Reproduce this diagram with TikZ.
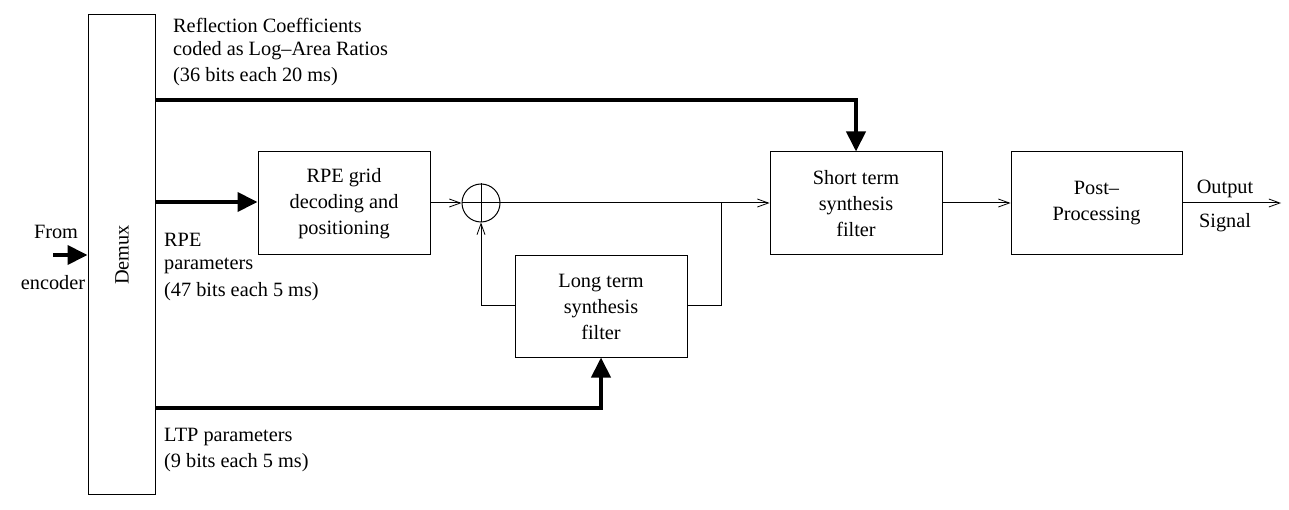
\documentclass[tikz,border=0pt]{standalone}
\usepackage{fontspec}
\setmainfont{Liberation Serif}
\usetikzlibrary{arrows.meta}
\begin{document}
\begin{tikzpicture}[x=1pt,y=-1pt,
  box/.style={draw,line width=1pt,inner sep=0pt,align=center},
  txt/.style={inner sep=0pt,align=left,anchor=west},
  thick arrow/.style={line width=4pt,-{Triangle[length=20pt,width=19pt]}},
  thin arrow/.style={line width=1pt,-{Straight Barb[length=11pt,width=8pt,line width=0.8pt]}},
  font=\fontsize{20.3}{26}\selectfont]
\useasboundingbox (0,0) rectangle (1289,510);
% boxes
\node[box,minimum width=67pt,minimum height=479pt] (demux) at (121.5,254.5) {};
\node[rotate=90,inner sep=0pt] (demuxt) at (122,255) {Demux};
\node[box,minimum width=172pt,minimum height=103pt] (rpe) at (344,203.5) {RPE grid\\decoding and\\positioning};
\node[box,minimum width=172pt,minimum height=101pt] (ltp) at (601,306.5) {Long term\\synthesis\\filter};
\node[box,minimum width=172pt,minimum height=103pt] (stf) at (856,203.5) {Short term\\synthesis\\filter};
\node[box,minimum width=171pt,minimum height=103pt] (post) at (1096.5,203.5) {Post--\\Processing};
\node[draw,circle,line width=1pt,minimum size=38pt,inner sep=0pt] (sum) at (481,203) {};
\draw[line width=1pt] (sum.north) -- (sum.south) (sum.west) -- (sum.east);
% coordinates
\coordinate (from) at (53,255);
\coordinate (topL) at (155,100);
\coordinate (topC) at (856,100);
\coordinate (rpeL) at (155,202);
\coordinate (ltpL) at (155,408);
\coordinate (ltpC) at (601,408);
\coordinate (br) at (721,203);
\coordinate (brD) at (721,306);
\coordinate (fbL) at (481,306);
\coordinate (out) at (1281,203);
% thick arrows
\draw[thick arrow] (from) -- (demux.west |- from);
\draw[thick arrow] (topL) -- (topC) -- (stf.north);
\draw[thick arrow] (rpeL) -- (rpe.west |- rpeL);
\draw[thick arrow] (ltpL) -- (ltpC) -- (ltp.south);
% thin arrows
\draw[thin arrow] (rpe.east |- sum) -- (sum.west);
\draw[thin arrow] (sum.east) -- (stf.west |- sum);
\draw[line width=1pt] (br) -- (brD) -- (ltp.east |- brD);
\draw[thin arrow] (ltp.west |- fbL) -- (fbL) -- (sum.south);
\draw[thin arrow] (stf.east |- sum) -- (post.west |- sum);
\draw[thin arrow] (post.east |- sum) -- (out);
% labels
\node[txt] (l1) at (173,25) {Reflection Coefficients};
\node[txt] (l2) at (173,51) {coded as Log--Area Ratios};
\node[txt] (l3) at (173,77) {(36 bits each 20 ms)};
\node[txt] (r1) at (164,240) {RPE};
\node[txt] (r2) at (164,266) {parameters};
\node[txt] (r3) at (164,292) {(47 bits each 5 ms)};
\node[txt] (t1) at (164,437) {LTP parameters};
\node[txt] (t2) at (164,463) {(9 bits each 5 ms)};
\node[inner sep=0pt] (f1) at (56,232) {From};
\node[inner sep=0pt] (f2) at (53,283) {encoder};
\node[inner sep=0pt] (o1) at (1225,189) {Output};
\node[inner sep=0pt] (o2) at (1225,223) {Signal};
\end{tikzpicture}
\end{document}
